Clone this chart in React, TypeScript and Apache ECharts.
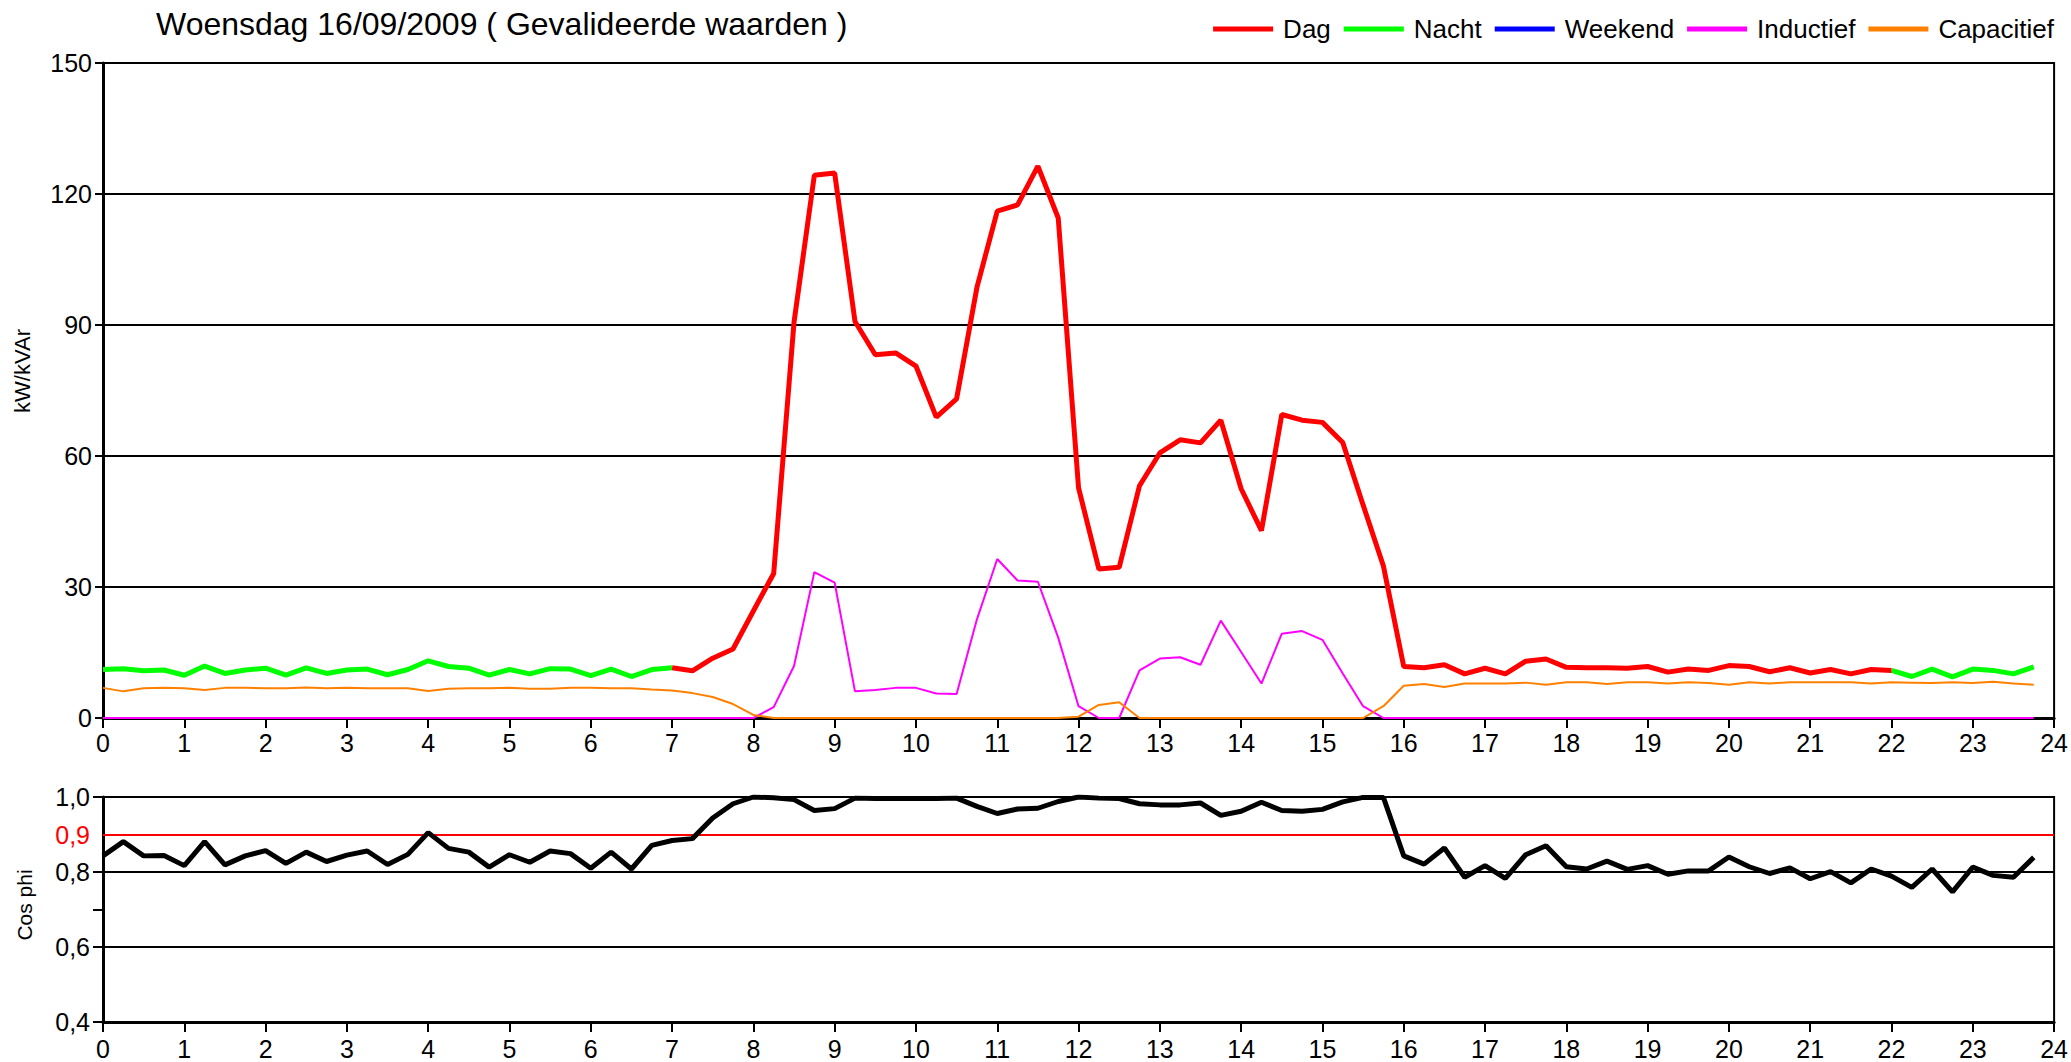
import React, { useEffect, useRef } from "react";
import * as echarts from "echarts";

const titel = "Woensdag 16/09/2009 ( Gevalideerde waarden )";
const legendNamen = ["Dag", "Nacht", "Weekend", "Inductief", "Capacitief"];
const kleuren = ["#ff0000", "#00ff00", "#0000ff", "#ff00ff", "#ff8000"];

// kW, quarter hours 0:00 .. 7:00 (Nacht)
const nachtOchtend = [11.1, 11.3, 10.8, 11.0, 9.8, 11.9, 10.2, 11.0, 11.4, 9.8, 11.5, 10.2, 11.0, 11.2, 9.9, 11.1,
  13.1, 11.8, 11.4, 9.8, 11.1, 10.1, 11.3, 11.2, 9.7, 11.2, 9.5, 11.1, 11.5];
const dagStartKwartier = 28;
// kW, 7:00 .. 22:00 (Dag)
const dag = [11.5, 10.8, 13.7, 15.8, 24.5, 33.1, 90.6, 124.3, 124.8, 90.8, 83.2, 83.6, 80.6, 68.9, 73.1, 98.6,
  116.1, 117.5, 126.4, 114.5, 52.7, 34.1, 34.5, 53.2, 60.7, 63.7, 63.0, 68.2, 52.5, 42.9, 69.5, 68.2,
  67.7, 63.1, 48.8, 34.8, 11.8, 11.5, 12.2, 10.1, 11.4, 10.1, 13.0, 13.5, 11.6, 11.5, 11.5, 11.4,
  11.8, 10.5, 11.2, 10.9, 12.0, 11.8, 10.6, 11.5, 10.3, 11.1, 10.1, 11.1, 10.9];
const nachtAvondStartKwartier = 88;
// kW, 22:00 .. 23:45 (Nacht)
const nachtAvond = [10.9, 9.5, 11.2, 9.4, 11.2, 10.9, 10.1, 11.7];
const weekend: number[] = [];
// kVAr inductief
const inductief = [0, 0, 0, 0, 0, 0, 0, 0, 0, 0, 0, 0, 0, 0, 0, 0,
  0, 0, 0, 0, 0, 0, 0, 0, 0, 0, 0, 0, 0, 0, 0, 0,
  0, 2.5, 11.9, 33.4, 31.0, 6.1, 6.4, 6.9, 6.9, 5.6, 5.5, 22.6, 36.4, 31.5, 31.2, 18.4,
  2.7, 0, 0, 10.9, 13.6, 13.9, 12.2, 22.3, 15.1, 7.9, 19.3, 19.9, 17.9, 10.2, 2.7, 0,
  0, 0, 0, 0, 0, 0, 0, 0, 0, 0, 0, 0, 0, 0, 0, 0,
  0, 0, 0, 0, 0, 0, 0, 0, 0, 0, 0, 0, 0, 0, 0, 0];
// kVAr capacitief
const capacitief = [6.9, 6.1, 6.8, 6.9, 6.8, 6.4, 6.9, 6.9, 6.8, 6.8, 7.0, 6.8, 6.9, 6.8, 6.8, 6.8,
  6.2, 6.7, 6.8, 6.8, 6.9, 6.7, 6.7, 6.9, 6.9, 6.8, 6.8, 6.5, 6.3, 5.7, 4.8, 3.2,
  0.7, 0, 0, 0, 0, 0, 0, 0, 0, 0, 0, 0, 0, 0, 0, 0,
  0.3, 3.0, 3.6, 0, 0, 0, 0, 0, 0, 0, 0, 0, 0, 0, 0, 2.7,
  7.4, 7.8, 7.1, 7.9, 7.9, 7.9, 8.1, 7.6, 8.2, 8.2, 7.8, 8.2, 8.2, 7.9, 8.2, 8.0,
  7.6, 8.2, 7.9, 8.2, 8.2, 8.2, 8.2, 7.9, 8.2, 8.1, 8.0, 8.2, 8.0, 8.3, 7.9, 7.6];
const cosPhi = [0.843, 0.881, 0.843, 0.844, 0.817, 0.881, 0.819, 0.843, 0.857, 0.823, 0.853, 0.828,
  0.845, 0.856, 0.820, 0.847, 0.905, 0.863, 0.853, 0.813, 0.846, 0.826, 0.856, 0.849,
  0.810, 0.853, 0.808, 0.871, 0.884, 0.889, 0.944, 0.982, 1.000, 0.998, 0.993, 0.964,
  0.969, 0.997, 0.996, 0.996, 0.996, 0.996, 0.997, 0.975, 0.956, 0.968, 0.970, 0.988,
  1.000, 0.997, 0.996, 0.982, 0.979, 0.979, 0.984, 0.951, 0.962, 0.986, 0.964, 0.962,
  0.967, 0.987, 0.999, 0.999, 0.843, 0.821, 0.864, 0.786, 0.817, 0.783, 0.846, 0.870,
  0.814, 0.808, 0.829, 0.807, 0.817, 0.794, 0.803, 0.803, 0.840, 0.814, 0.796, 0.811,
  0.782, 0.801, 0.771, 0.808, 0.789, 0.759, 0.808, 0.747, 0.813, 0.791, 0.786, 0.839];
const cosLijnen = [0.6, 0.8, 1.0];
const cosNorm = 0.9;
const cosLabels = [0.4, 0.6, 0.8, 0.9, 1.0];
const cosTicks = [0.4, 0.6, 0.7, 0.8, 1.0];

const FONT = "Liberation Sans, Arial, Helvetica, sans-serif";

function uur(i: number) {
  return i / 4;
}
function reeks(values: number[], start: number) {
  return values.map((v, k) => [uur(start + k), v]);
}

export default function App() {
  const ref = useRef<HTMLDivElement>(null);
  useEffect(() => {
    document.body.style.margin = "0";
    document.body.style.overflow = "hidden";
    if (!ref.current) return;
    const chart = echarts.init(ref.current, null, { renderer: "svg" });

    const xAxisBase = (gridIndex: number, margin: number) => ({
      type: "value",
      gridIndex,
      min: 0,
      max: 24,
      interval: 1,
      axisLine: { show: true, onZero: false, lineStyle: { color: "#000", width: 3 } },
      axisTick: { show: true, length: 10, lineStyle: { color: "#000", width: 2 } },
      axisLabel: { fontSize: 25, color: "#000", margin, fontFamily: FONT },
      splitLine: { show: false },
    });

    const option: any = {
      animation: false,
      backgroundColor: "#fff",
      textStyle: { fontFamily: FONT },
      title: {
        text: titel,
        left: 151,
        top: 3,
        textStyle: { fontSize: 32, fontWeight: "normal", color: "#000", fontFamily: FONT },
      },
      legend: {
        right: 12,
        top: 11,
        icon: "rect",
        itemWidth: 60,
        itemHeight: 5,
        itemGap: 13,
        data: legendNamen,
        textStyle: { fontSize: 26, color: "#000", fontFamily: FONT, padding: [0, 0, 0, 5] },
      },
      grid: [
        { left: 103, top: 63, width: 1953, height: 655, show: true, borderColor: "#000", borderWidth: 2, containLabel: false },
        { left: 103, top: 797, width: 1953, height: 225, show: true, borderColor: "#000", borderWidth: 2, containLabel: false },
      ],
      xAxis: [xAxisBase(0, 12), xAxisBase(1, 14)],
      yAxis: [
        {
          type: "value",
          gridIndex: 0,
          min: 0,
          max: 150,
          interval: 30,
          axisLine: { show: true, lineStyle: { color: "#000", width: 3 } },
          axisTick: { show: true, length: 8, lineStyle: { color: "#000", width: 2 } },
          axisLabel: { fontSize: 25, color: "#000", margin: 11, fontFamily: FONT },
          splitLine: { show: true, lineStyle: { color: "#000", width: 2 } },
        },
        {
          type: "value",
          gridIndex: 1,
          min: 0.4,
          max: 1.0,
          interval: 0.1,
          axisLine: { show: true, lineStyle: { color: "#000", width: 3 } },
          axisTick: { show: true, length: 10, customValues: cosTicks, lineStyle: { color: "#000", width: 2 } },
          axisLabel: {
            fontSize: 25,
            color: "#000",
            margin: 13,
            fontFamily: FONT,
            customValues: cosLabels,
            formatter: (v: number) => {
              const s = v.toFixed(1).replace(".", ",");
              return Math.abs(v - cosNorm) < 1e-6 ? "{r|" + s + "}" : s;
            },
            rich: { r: { color: "#ff0000", fontSize: 25, fontFamily: FONT } },
          },
          splitLine: { show: false },
        },
      ],
      graphic: [
        {
          type: "text",
          x: 22,
          y: 371,
          rotation: Math.PI / 2,
          style: { text: "kW/kVAr", fontSize: 22, fontFamily: FONT, fill: "#000", align: "center", verticalAlign: "middle", textAlign: "center", textVerticalAlign: "middle" },
        },
        {
          type: "text",
          x: 24,
          y: 905,
          rotation: Math.PI / 2,
          style: { text: "Cos phi", fontSize: 21, fontFamily: FONT, fill: "#000", align: "center", verticalAlign: "middle", textAlign: "center", textVerticalAlign: "middle" },
        },
      ],
      series: [
        {
          name: "Inductief",
          type: "line",
          xAxisIndex: 0,
          yAxisIndex: 0,
          data: reeks(inductief, 0),
          symbol: "none",
          z: 2,
          lineStyle: { color: kleuren[3], width: 2 },
          itemStyle: { color: kleuren[3] },
        },
        {
          name: "Capacitief",
          type: "line",
          xAxisIndex: 0,
          yAxisIndex: 0,
          data: reeks(capacitief, 0),
          symbol: "none",
          z: 2,
          lineStyle: { color: kleuren[4], width: 2 },
          itemStyle: { color: kleuren[4] },
        },
        {
          name: "Weekend",
          type: "line",
          xAxisIndex: 0,
          yAxisIndex: 0,
          data: reeks(weekend, 0),
          symbol: "none",
          z: 3,
          lineStyle: { color: kleuren[2], width: 5 },
          itemStyle: { color: kleuren[2] },
        },
        {
          name: "Nacht",
          type: "line",
          xAxisIndex: 0,
          yAxisIndex: 0,
          data: reeks(nachtOchtend, 0),
          symbol: "none",
          z: 3,
          lineStyle: { color: kleuren[1], width: 5 },
          itemStyle: { color: kleuren[1] },
        },
        {
          name: "Nacht",
          type: "line",
          xAxisIndex: 0,
          yAxisIndex: 0,
          data: reeks(nachtAvond, nachtAvondStartKwartier),
          symbol: "none",
          z: 3,
          lineStyle: { color: kleuren[1], width: 5 },
          itemStyle: { color: kleuren[1] },
        },
        {
          name: "Dag",
          type: "line",
          xAxisIndex: 0,
          yAxisIndex: 0,
          data: reeks(dag, dagStartKwartier),
          symbol: "none",
          z: 4,
          lineStyle: { color: kleuren[0], width: 5 },
          itemStyle: { color: kleuren[0] },
        },
        {
          name: "cosLijnen",
          type: "line",
          xAxisIndex: 1,
          yAxisIndex: 1,
          data: [],
          z: 1,
          silent: true,
          markLine: {
            z: 1,
            silent: true,
            symbol: ["none", "none"],
            label: { show: false },
            data: [
              ...cosLijnen.map((v) => ({ yAxis: v, lineStyle: { color: "#000", width: 2, type: "solid" } })),
              { yAxis: cosNorm, lineStyle: { color: "#ff0000", width: 2, type: "solid" } },
            ],
          },
        },
        {
          name: "Cos phi",
          type: "line",
          xAxisIndex: 1,
          yAxisIndex: 1,
          data: reeks(cosPhi, 0),
          symbol: "none",
          z: 5,
          lineStyle: { color: "#000", width: 5 },
          itemStyle: { color: "#000" },
        },
      ],
    };
    chart.setOption(option);
    return () => chart.dispose();
  }, []);
  return <div ref={ref} style={{ width: 2071, height: 1062 }} />;
}
